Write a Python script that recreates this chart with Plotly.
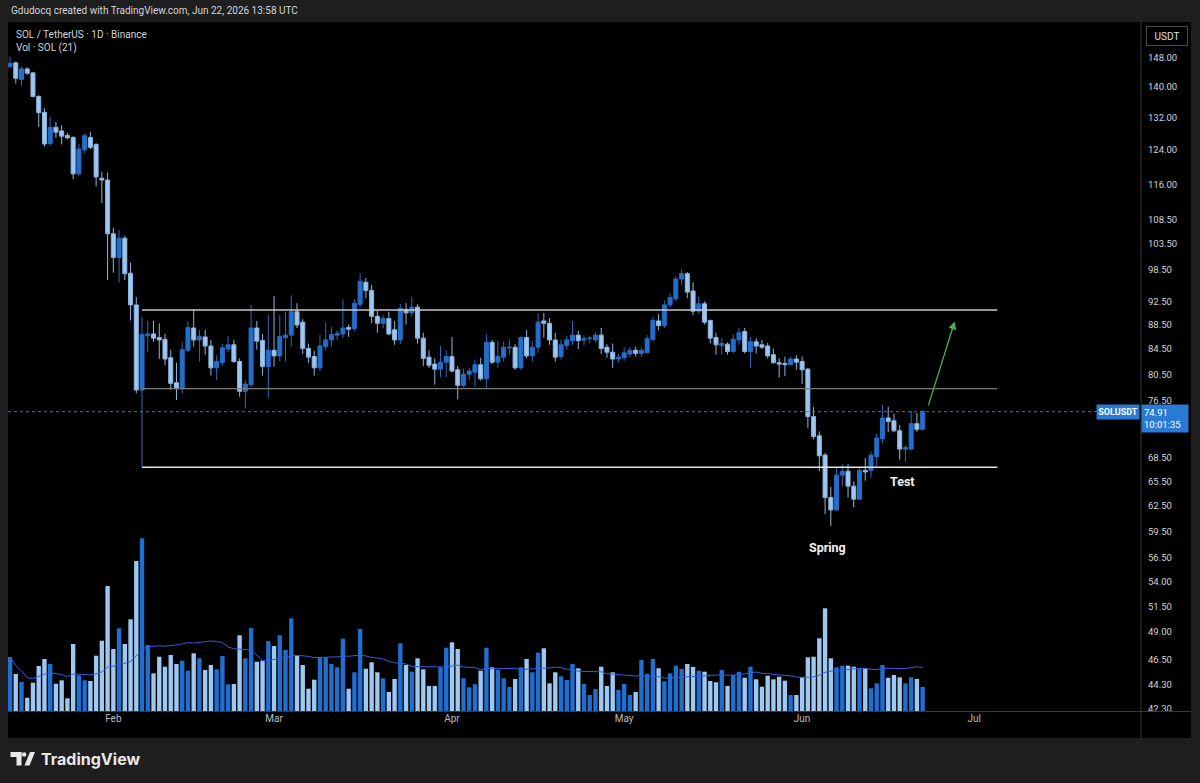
import math
import pandas as pd
import plotly.graph_objects as go

# ---------------- data ----------------
start_date = "2026-01-14"

opens = [145.6, 146.6, 142.0, 144.9, 143.8, 137.4, 133.3, 125.5, 129.5, 128.6,
         127.5, 127.0, 118.4, 124.0, 127.0, 125.3, 117.4, 117.0, 105.5, 100.8,
         104.6, 97.8, 92.0, 78.1, 86.7, 87.0, 86.4, 86.1, 83.1, 79.2,
         78.3, 84.3, 88.0, 86.0, 86.5, 85.0, 81.5, 82.3, 84.5, 85.2,
         82.5, 77.9, 78.9, 88.0, 85.9, 81.7, 84.3, 83.4, 86.4, 86.8,
         90.8, 89.0, 84.6, 83.3, 81.5, 84.9, 86.0, 86.8, 87.0, 88.1,
         87.9, 92.1, 96.1, 94.6, 90.0, 88.8, 89.6, 87.7, 86.0, 91.2,
         90.6, 91.6, 86.3, 83.2, 82.1, 81.3, 82.4, 83.3, 81.2, 78.8,
         80.5, 80.8, 82.0, 79.8, 85.6, 82.4, 83.2, 84.7, 84.8, 81.5,
         86.4, 83.4, 84.8, 89.2, 88.8, 86.0, 83.3, 85.1, 85.9, 86.8,
         86.0, 86.2, 86.0, 86.8, 84.8, 84.0, 82.9, 83.1, 83.7, 84.3,
         83.8, 83.9, 86.1, 89.2, 88.4, 92.0, 93.1, 96.7, 97.7, 94.5,
         90.9, 92.2, 89.3, 86.4, 85.1, 85.3, 84.1, 86.0, 87.4, 84.1,
         85.7, 85.2, 85.0, 83.6, 82.3, 82.2, 82.0, 82.9, 82.5, 81.3,
         74.2, 71.5, 68.9, 63.5, 62.0, 66.3, 66.8, 64.9, 63.3, 66.9,
         66.9, 68.7, 71.1, 74.0, 73.6, 72.2, 69.7, 69.7, 73.2, 72.4]

highs = [148.4, 147.0, 145.6, 145.3, 144.1, 137.8, 134.4, 132.2, 130.8, 130.0,
         128.1, 127.3, 125.4, 128.0, 128.4, 125.6, 118.9, 118.7, 106.7, 106.3,
         105.1, 99.8, 93.4, 89.9, 89.2, 89.2, 88.8, 87.0, 84.4, 82.3,
         85.7, 89.1, 91.2, 87.7, 87.7, 86.0, 83.5, 85.4, 86.6, 86.0,
         83.0, 79.6, 92.0, 89.2, 87.0, 90.2, 93.6, 90.2, 90.8, 93.7,
         92.3, 89.5, 85.4, 84.2, 86.9, 89.0, 88.2, 87.6, 93.0, 88.6,
         93.0, 97.8, 96.9, 95.6, 91.0, 90.2, 90.8, 89.2, 92.2, 92.3,
         93.4, 92.1, 87.2, 84.3, 83.0, 85.0, 84.3, 86.5, 81.8, 81.4,
         81.5, 82.8, 83.1, 87.0, 86.0, 85.8, 85.7, 86.1, 85.3, 86.6,
         87.7, 85.8, 90.5, 90.6, 89.7, 87.2, 86.1, 86.7, 89.2, 87.5,
         86.8, 86.7, 87.2, 88.0, 85.3, 85.4, 83.8, 84.8, 84.8, 84.9,
         84.8, 86.8, 89.9, 90.4, 92.8, 94.1, 97.2, 98.5, 98.0, 96.1,
         93.5, 92.6, 89.4, 87.2, 86.3, 85.6, 86.9, 88.0, 88.0, 86.5,
         86.3, 86.0, 85.5, 84.6, 83.0, 83.3, 83.3, 83.5, 83.3, 81.5,
         75.6, 72.1, 69.2, 64.8, 67.2, 67.7, 67.7, 65.5, 67.3, 68.5,
         69.4, 71.8, 75.9, 75.6, 74.6, 73.0, 70.2, 75.0, 74.7, 75.1]

lows = [145.0, 140.9, 140.3, 143.3, 137.2, 129.6, 124.8, 125.0, 126.9, 125.3,
        126.5, 117.2, 118.0, 123.2, 124.2, 115.6, 111.9, 96.5, 97.9, 96.0,
        96.5, 89.3, 77.6, 67.3, 84.0, 85.7, 82.9, 81.9, 78.1, 76.6,
        77.6, 84.0, 84.9, 82.5, 83.6, 80.3, 79.6, 81.8, 84.0, 82.3,
        77.1, 75.4, 78.5, 84.4, 80.3, 76.9, 81.7, 82.5, 82.5, 84.9,
        88.0, 83.7, 82.3, 80.3, 81.0, 84.3, 84.9, 86.0, 86.3, 86.5,
        87.4, 91.6, 93.2, 88.8, 87.2, 88.0, 86.8, 85.2, 85.3, 88.6,
        90.0, 85.4, 81.8, 81.5, 78.9, 80.1, 80.1, 80.8, 76.7, 78.5,
        79.6, 78.6, 79.5, 78.3, 82.1, 81.5, 82.5, 83.6, 81.2, 81.2,
        83.0, 82.5, 83.9, 86.4, 85.2, 82.5, 82.8, 84.4, 85.2, 84.5,
        85.1, 85.5, 85.6, 83.7, 83.1, 81.5, 82.3, 82.6, 83.2, 83.3,
        83.2, 83.8, 85.8, 87.6, 88.0, 91.5, 92.6, 95.6, 93.2, 90.2,
        90.4, 88.6, 85.4, 83.6, 83.6, 83.6, 83.8, 85.2, 83.8, 81.5,
        83.8, 84.5, 83.0, 82.2, 80.0, 80.2, 81.9, 81.2, 79.0, 72.6,
        71.0, 66.8, 61.5, 60.1, 61.9, 64.9, 63.5, 62.3, 63.2, 65.6,
        66.0, 67.4, 70.5, 72.0, 72.0, 68.3, 68.0, 69.5, 72.0, 72.3]

closes = [146.5, 142.3, 144.9, 143.7, 137.4, 133.2, 125.4, 129.5, 128.3, 127.3,
          126.9, 118.4, 124.2, 127.4, 124.6, 117.7, 117.0, 105.5, 100.8, 104.6,
          97.7, 92.0, 78.1, 86.9, 87.0, 86.3, 86.0, 82.9, 79.1, 78.3,
          84.4, 88.1, 86.0, 86.6, 85.0, 81.5, 82.5, 84.7, 85.2, 82.5,
          77.9, 79.0, 88.0, 85.8, 81.7, 84.3, 83.4, 86.6, 86.8, 90.8,
          88.5, 84.6, 83.2, 81.5, 85.0, 86.0, 86.9, 87.1, 88.0, 87.8,
          92.3, 96.3, 94.6, 90.0, 88.8, 89.6, 87.0, 86.0, 91.4, 90.6,
          91.6, 86.3, 83.0, 81.9, 81.3, 82.4, 83.3, 81.0, 78.8, 80.5,
          81.0, 82.0, 79.8, 85.6, 82.4, 83.3, 84.8, 84.8, 81.5, 86.4,
          83.4, 84.8, 89.0, 88.8, 86.0, 83.2, 85.2, 86.0, 86.8, 85.9,
          86.2, 86.3, 86.8, 84.6, 84.0, 82.9, 83.2, 83.9, 84.3, 83.8,
          84.3, 86.2, 89.3, 88.4, 92.0, 93.3, 96.7, 97.7, 94.3, 90.9,
          92.2, 89.0, 86.3, 85.2, 85.4, 84.1, 86.1, 87.2, 84.1, 85.7,
          85.0, 84.8, 83.4, 82.3, 82.1, 82.0, 82.9, 82.4, 81.2, 74.2,
          71.4, 68.8, 63.5, 62.0, 66.3, 66.8, 64.9, 63.3, 66.9, 66.7,
          68.9, 71.2, 74.0, 73.5, 72.2, 69.7, 69.9, 73.2, 72.4, 74.91]

# volume, millions of SOL
volumes = [5.40, 3.70, 2.90, 1.33, 2.83, 4.50, 5.20, 4.70, 2.73, 3.07,
           1.27, 6.70, 3.57, 3.07, 3.00, 5.53, 7.03, 12.50, 6.20, 8.27,
           6.70, 9.17, 15.00, 17.27, 6.60, 3.77, 5.43, 4.43, 5.60, 4.70,
           5.03, 4.03, 5.77, 5.27, 4.10, 4.60, 4.17, 5.50, 2.67, 2.70,
           7.57, 5.27, 8.30, 4.93, 5.03, 7.00, 6.50, 7.57, 6.10, 9.27,
           5.53, 4.60, 2.23, 3.13, 5.37, 5.37, 4.70, 4.37, 7.23, 2.23,
           3.87, 8.20, 4.23, 4.87, 3.87, 3.27, 1.90, 3.20, 6.77, 4.60,
           3.93, 5.27, 4.17, 2.50, 2.50, 4.37, 6.33, 6.87, 6.20, 3.27,
           2.37, 2.67, 4.03, 6.33, 4.37, 4.10, 3.27, 2.40, 3.20, 4.37,
           5.20, 3.87, 5.83, 6.27, 2.77, 3.87, 3.47, 3.10, 4.70, 4.27,
           2.70, 1.60, 2.20, 4.43, 2.50, 3.87, 2.10, 2.70, 1.60, 1.90,
           5.10, 3.70, 5.20, 4.27, 2.97, 3.77, 4.53, 4.20, 4.70, 4.40,
           4.03, 3.93, 3.00, 2.87, 4.10, 2.50, 3.60, 3.93, 3.33, 4.43,
           3.17, 2.43, 3.53, 3.17, 3.43, 3.03, 1.60, 1.60, 3.37, 5.37,
           5.43, 7.27, 10.27, 5.27, 4.37, 4.53, 4.53, 4.43, 4.27, 4.27,
           2.27, 2.77, 4.60, 3.33, 3.60, 3.37, 2.77, 3.37, 3.20, 2.40]

# 72.50 sits under the last-price label in the reference, so it is not listed
price_ticks = [148.0, 140.0, 132.0, 124.0, 116.0, 108.5, 103.5, 98.5, 92.5, 88.5,
               84.5, 80.5, 76.5, 68.5, 65.5, 62.5, 59.5, 56.5, 54.0,
               51.5, 49.0, 46.5, 44.3, 42.3]
month_ticks = ["2026-02-01", "2026-03-01", "2026-04-01", "2026-05-01", "2026-06-01", "2026-07-01"]
month_labels = ["Feb", "Mar", "Apr", "May", "Jun", "Jul"]

level_prices = [91.1, 78.3, 67.3]          # drawn horizontal levels
level_colors = ["#c8c8c8", "#7a7a7a", "#e6e6e6"]
level_widths = [1.6, 1.1, 1.4]
level_start = "2026-02-06"
level_end = "2026-07-05"

last_price = 74.91
spring_pos = ("2026-06-05 12:00", 57.7)
test_pos = ("2026-06-18 10:00", 65.5)
arrow_tail = ("2026-06-22 22:00", 75.6)
arrow_tip = ("2026-06-27 14:00", 89.1)

# ---------------- styling ----------------
UP = "#1f6fd1"
DOWN = "#9cc8f2"
UP_LINE = "#2a6cc0"
DOWN_LINE = "#8db6e0"
FRAME = "#1e1e1e"
TXT = "#d1d4dc"
FONT = "Roboto"

W, H = 1200, 783
ML, MR, MT, MB = 8, 59, 22, 72
PW, PH = W - ML - MR, H - MT - MB


def px(x):
    return (x - ML) / PW


def py(y):
    return (H - MB - y) / PH


dates = pd.date_range(start_date, periods=len(closes), freq="D")
x0 = pd.Timestamp(start_date) - pd.Timedelta(hours=8.4)
x1 = pd.Timestamp(start_date) + pd.Timedelta(days=197.04)

vol_colors = [UP if c >= o else DOWN for o, c in zip(opens, closes)]
vol_ma = pd.Series(volumes).rolling(21, min_periods=1).mean()

fig = go.Figure()

fig.add_trace(go.Bar(x=dates, y=volumes, marker=dict(color=vol_colors, line=dict(width=0)),
                     width=0.76 * 86400000, yaxis="y2", hoverinfo="skip"))
fig.add_trace(go.Scatter(x=dates, y=vol_ma, mode="lines", line=dict(color="#2f5ee0", width=1),
                         yaxis="y2", hoverinfo="skip"))

for lp, lc, lw in zip(level_prices, level_colors, level_widths):
    fig.add_trace(go.Scatter(x=[level_start, level_end], y=[lp, lp], mode="lines",
                             line=dict(color=lc, width=lw), hoverinfo="skip"))

fig.add_trace(go.Scatter(x=[x0, x1], y=[last_price, last_price], mode="lines",
                         line=dict(color="#3b78c8", width=1, dash="dot"), hoverinfo="skip"))

fig.add_trace(go.Candlestick(
    x=dates, open=opens, high=highs, low=lows, close=closes,
    increasing=dict(line=dict(color=UP_LINE, width=1), fillcolor=UP),
    decreasing=dict(line=dict(color=DOWN_LINE, width=1), fillcolor=DOWN),
    whiskerwidth=0, hoverinfo="skip"))

ymin, ymax = 42.1, 158.6

fig.update_layout(
    width=W, height=H, autosize=False,
    margin=dict(l=ML, r=MR, t=MT, b=MB, pad=0),
    paper_bgcolor=FRAME, plot_bgcolor="#000000",
    showlegend=False, boxgap=0.3, boxgroupgap=0.0,
    font=dict(family=FONT, color=TXT, size=10),
    xaxis=dict(type="date", range=[x0, x1], showgrid=False, zeroline=False, showline=False,
               tickvals=month_ticks, ticktext=month_labels, ticks="",
               tickfont=dict(size=10, color="#b8bcc6", family=FONT),
               rangeslider=dict(visible=False), fixedrange=True),
    yaxis=dict(type="log", range=[math.log10(ymin), math.log10(ymax)], side="right",
               showgrid=False, zeroline=False, showline=False, ticks="",
               tickvals=price_ticks, ticktext=[f"{v:.2f}" for v in price_ticks],
               tickfont=dict(size=9.5, color=TXT, family=FONT), ticklabelstandoff=6),
    yaxis2=dict(overlaying="y", range=[0, PH / 10.0], visible=False, fixedrange=True),
)

shapes = []
# black chart frame (outside plot area: price scale and time scale)
shapes.append(dict(type="rect", xref="paper", yref="paper", x0=px(8), x1=px(1191),
                   y0=py(738), y1=py(22), fillcolor="#000000", line=dict(width=0), layer="below"))
# separators
shapes.append(dict(type="line", xref="paper", yref="paper", x0=px(1141), x1=px(1141),
                   y0=py(738), y1=py(22), line=dict(color="#3a3a3a", width=1)))
shapes.append(dict(type="line", xref="paper", yref="paper", x0=px(8), x1=px(1191),
                   y0=py(711.5), y1=py(711.5), line=dict(color="#3a3a3a", width=1)))
# TradingView logo glyph
LOGO = "#e8e8e8"
shapes.append(dict(type="rect", xref="paper", yref="paper", x0=px(10.5), x1=px(21.5),
                   y0=py(757), y1=py(752), fillcolor=LOGO, line=dict(width=0)))
shapes.append(dict(type="rect", xref="paper", yref="paper", x0=px(16.5), x1=px(21.5),
                   y0=py(765.5), y1=py(752), fillcolor=LOGO, line=dict(width=0)))
shapes.append(dict(type="circle", xref="paper", yref="paper", x0=px(22), x1=px(26.4),
                   y0=py(756.7), y1=py(752.3), fillcolor=LOGO, line=dict(width=0)))
path = "M {a},{b} L {c},{d} L {e},{f} L {g},{h} Z".format(
    a=px(24.5), b=py(765.5), c=px(29.5), d=py(765.5), e=px(35), f=py(752), g=px(30), h=py(752))
shapes.append(dict(type="path", xref="paper", yref="paper", path=path, fillcolor=LOGO,
                   line=dict(width=0)))

ann = []
ann.append(dict(text="Gdudocq created with TradingView.com, Jun 22, 2026 13:58 UTC",
                xref="paper", yref="paper", x=px(9), y=py(11), xanchor="left", yanchor="middle",
                showarrow=False, font=dict(size=10, color=TXT, family=FONT)))
ann.append(dict(text="SOL / TetherUS · 1D · Binance", xref="paper", yref="paper",
                x=px(14), y=py(34), xanchor="left", yanchor="middle", showarrow=False,
                font=dict(size=10, color=TXT, family=FONT)))
ann.append(dict(text="Vol · SOL (21)", xref="paper", yref="paper",
                x=px(14), y=py(48), xanchor="left", yanchor="middle", showarrow=False,
                font=dict(size=10, color=TXT, family=FONT)))
ann.append(dict(text="USDT", xref="paper", yref="paper", x=px(1166.5), y=py(36),
                xanchor="center", yanchor="middle", showarrow=False, width=38, height=16,
                bordercolor="#4a4a4a", borderwidth=1, borderpad=1, bgcolor="#000000",
                font=dict(size=10, color="#e0e0e0", family=FONT)))
ann.append(dict(text="<b>SOLUSDT</b>", xref="paper", yref="paper", x=px(1140), y=py(412),
                xanchor="right", yanchor="middle", showarrow=False, width=40, height=12,
                bgcolor="#2a7ad5", borderpad=1, font=dict(size=9, color="#ffffff", family=FONT)))
ann.append(dict(text=f"{last_price:.2f}<br>10:01:35", xref="paper", yref="paper", x=px(1141),
                y=py(404), xanchor="left", yanchor="top", showarrow=False, width=42, height=23,
                align="left", bgcolor="#2a7ad5", borderpad=2,
                font=dict(size=9.5, color="#ffffff", family=FONT)))
ann.append(dict(text="<b>Spring</b>", x=spring_pos[0], y=math.log10(spring_pos[1]),
                xref="x", yref="y", showarrow=False, font=dict(size=12.5, color="#f2f2f2", family=FONT)))
ann.append(dict(text="<b>Test</b>", x=test_pos[0], y=math.log10(test_pos[1]),
                xref="x", yref="y", showarrow=False, font=dict(size=12.5, color="#f2f2f2", family=FONT)))
ann.append(dict(text="", x=arrow_tip[0], y=math.log10(arrow_tip[1]), xref="x", yref="y",
                ax=arrow_tail[0], ay=math.log10(arrow_tail[1]), axref="x", ayref="y",
                showarrow=True, arrowhead=2, arrowsize=1.2, arrowwidth=1.3, arrowcolor="#4caf50"))
ann.append(dict(text="<b>TradingView</b>", xref="paper", yref="paper", x=px(39), y=py(759),
                xanchor="left", yanchor="middle", showarrow=False,
                font=dict(size=16, color="#e8e8e8", family="Inter")))

fig.update_layout(shapes=shapes, annotations=ann)
fig.write_html("out.html")
